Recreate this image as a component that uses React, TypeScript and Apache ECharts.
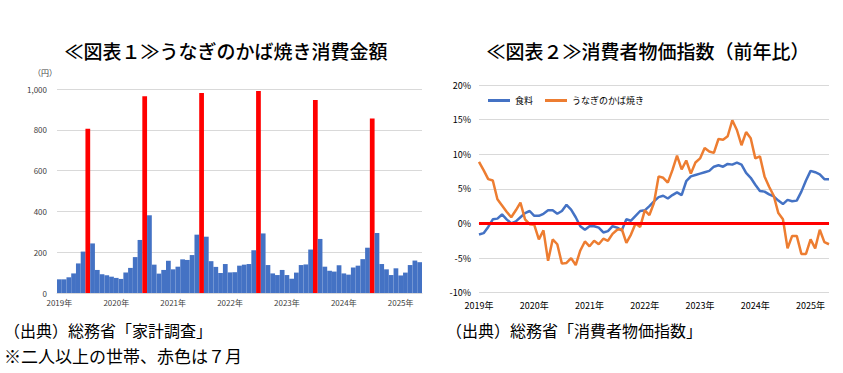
import React, { useEffect, useRef } from "react";
import * as echarts from "echarts";

const startYear = 2019;
const monthCount = 77; // Jan 2019 - May 2025
const months: string[] = [];
for (let i = 0; i < monthCount; i++) {
  const y = startYear + Math.floor(i / 12);
  const m = (i % 12) + 1;
  months.push(`${y}-${m < 10 ? "0" + m : m}`);
}

// うなぎのかば焼き 消費金額（円）
const eelSpending = [
  67, 67, 77, 96, 145, 203, 805, 243, 113, 92, 87, 80,
  74, 69, 100, 123, 176, 260, 965, 381, 139, 95, 113, 158,
  116, 129, 165, 162, 186, 286, 980, 276, 156, 128, 98, 142,
  101, 102, 134, 139, 142, 210, 990, 292, 137, 96, 88, 113,
  88, 70, 100, 137, 140, 213, 946, 265, 129, 109, 105, 136,
  96, 90, 125, 134, 166, 222, 856, 294, 142, 116, 88, 121,
  86, 100, 137, 159, 151,
];

// 消費者物価指数 前年比（%）
const foodCpi = [
  -1.6, -1.4, -0.5, 0.6, 0.7, 1.3, 0.6, 0.0, 0.3, 0.9, 1.5, 1.8,
  1.1, 1.1, 1.4, 1.9, 1.9, 1.4, 1.8, 2.7, 2.0, 0.9, -0.4, -0.9,
  -0.4, -0.4, -0.6, -1.3, -1.1, -0.4, -0.6, -1.0, 0.6, 0.4, 1.1, 1.8,
  1.9, 2.5, 3.2, 3.8, 4.0, 3.6, 4.1, 4.5, 4.1, 6.1, 6.8, 7.0,
  7.2, 7.4, 7.6, 8.2, 8.4, 8.2, 8.6, 8.5, 8.8, 8.5, 7.3, 6.6,
  5.6, 4.7, 4.6, 4.2, 3.9, 3.3, 2.8, 3.4, 3.2, 3.3, 4.6, 6.2,
  7.6, 7.4, 7.1, 6.4, 6.4,
];
const eelCpi = [
  8.9, 7.7, 6.4, 6.2, 3.5, 2.6, 1.7, 0.9, 1.9, 3.0, 0.6, -0.1,
  -0.2, -2.3, -1.0, -5.4, -2.3, -3.0, -5.8, -5.7, -5.0, -6.0, -3.9, -2.6,
  -3.3, -2.5, -3.0, -2.2, -2.5, -1.5, -0.9, -0.8, -2.8, -1.6, 0.0, -0.5,
  1.9, 1.2, 3.0, 6.8, 6.6, 5.9, 7.7, 9.8, 7.8, 9.1, 7.2, 8.8,
  9.4, 10.9, 10.4, 10.2, 12.2, 12.1, 12.6, 14.9, 13.5, 11.3, 13.2, 12.3,
  9.4, 9.7, 6.8, 5.3, 4.0, 1.5, 0.6, -3.6, -1.8, -1.8, -4.4, -4.4,
  -2.3, -3.6, -0.9, -2.7, -3.0,
];

const seriesNames = ["食料", "うなぎのかば焼き"];
const highlightMonth = 7;

const JP = '"Noto Sans CJK JP", "Noto Sans", sans-serif';
const BLUE = "#4472C4";
const ORANGE = "#ED7D31";
const RED = "#FF0000";
const GRID = "#d9d9d9";
const LABEL = "#404040";

export default function App() {
  const ref = useRef<HTMLDivElement>(null);
  useEffect(() => {
    if (!ref.current) return;
    const chart = echarts.init(ref.current, undefined, { renderer: "svg" });
    const yearLabel = (v: string) => v.slice(0, 4) + "年";
    const janOnly = (idx: number) => idx % 12 === 0;
    chart.setOption({
      animation: false,
      backgroundColor: "#ffffff",
      textStyle: { fontFamily: JP },
      grid: [
        { left: 57, top: 89, width: 365, height: 204 },
        { left: 479, top: 85, width: 350, height: 207.7 },
      ],
      xAxis: [
        {
          type: "category",
          gridIndex: 0,
          data: months,
          boundaryGap: true,
          axisTick: { show: false },
          axisLine: { show: true, lineStyle: { color: GRID } },
          axisLabel: {
            interval: janOnly,
            formatter: yearLabel,
            fontSize: 8,
            color: LABEL,
            margin: 5,
            fontFamily: JP,
          },
        },
        {
          type: "category",
          gridIndex: 1,
          data: months,
          boundaryGap: false,
          axisTick: { show: false },
          axisLine: { show: true, lineStyle: { color: GRID } },
          axisLabel: {
            interval: janOnly,
            formatter: yearLabel,
            fontSize: 9,
            color: "#000",
            margin: 8,
            fontFamily: JP,
          },
        },
      ],
      yAxis: [
        {
          type: "value",
          gridIndex: 0,
          min: 0,
          max: 1000,
          interval: 200,
          axisLine: { show: false },
          axisTick: { show: false },
          splitLine: { lineStyle: { color: GRID } },
          axisLabel: {
            fontSize: 8,
            color: LABEL,
            margin: 10,
            formatter: (v: number) => v.toLocaleString("en-US"),
          },
        },
        {
          type: "value",
          gridIndex: 1,
          min: -10,
          max: 20,
          interval: 5,
          axisLine: { show: false },
          axisTick: { show: false },
          splitLine: { lineStyle: { color: GRID } },
          axisLabel: {
            fontSize: 9,
            color: "#000",
            margin: 8,
            formatter: (v: number) => v + "%",
          },
        },
      ],
      legend: {
        data: seriesNames,
        left: 483,
        top: 91,
        itemWidth: 22,
        itemHeight: 3,
        itemGap: 12,
        icon: "rect",
        textStyle: { fontSize: 9, color: "#000", fontFamily: JP },
      },
      series: [
        {
          type: "bar",
          xAxisIndex: 0,
          yAxisIndex: 0,
          barCategoryGap: "0%",
          data: eelSpending.map((v, i) => ({
            value: v,
            itemStyle: { color: (i % 12) + 1 === highlightMonth ? RED : BLUE },
          })),
        },
        {
          name: seriesNames[0],
          type: "line",
          xAxisIndex: 1,
          yAxisIndex: 1,
          data: foodCpi,
          showSymbol: false,
          symbol: "none",
          lineStyle: { color: BLUE, width: 2.5 },
          itemStyle: { color: BLUE },
          z: 3,
        },
        {
          name: seriesNames[1],
          type: "line",
          xAxisIndex: 1,
          yAxisIndex: 1,
          data: eelCpi,
          showSymbol: false,
          symbol: "none",
          lineStyle: { color: ORANGE, width: 2.5 },
          itemStyle: { color: ORANGE },
          z: 3,
          markLine: {
            silent: true,
            symbol: "none",
            label: { show: false },
            lineStyle: { color: RED, width: 3, type: "solid" },
            data: [{ yAxis: 0 }],
            z: 4,
          },
        },
      ],
      graphic: [
        {
          type: "text",
          x: 226,
          y: 50,
          style: {
            text: "≪図表１≫うなぎのかば焼き消費金額",
            fontSize: 19,
            fontWeight: 500,
            fontFamily: JP,
            fill: "#000",
            align: "center",
            verticalAlign: "middle",
          },
        },
        {
          type: "text",
          x: 648,
          y: 50,
          style: {
            text: "≪図表２≫消費者物価指数（前年比）",
            fontSize: 19,
            fontWeight: 500,
            fontFamily: JP,
            fill: "#000",
            align: "center",
            verticalAlign: "middle",
          },
        },
        {
          type: "text",
          x: 33,
          y: 72,
          style: {
            text: "（円）",
            fontSize: 8,
            fontFamily: JP,
            fill: LABEL,
            verticalAlign: "middle",
          },
        },
        {
          type: "text",
          x: 4,
          y: 330,
          style: {
            text: "（出典）総務省「家計調査」",
            fontSize: 16,
            fontFamily: JP,
            fill: "#000",
            verticalAlign: "middle",
          },
        },
        {
          type: "text",
          x: 4,
          y: 355,
          style: {
            text: "※二人以上の世帯、赤色は７月",
            fontSize: 17,
            fontFamily: JP,
            fill: "#000",
            verticalAlign: "middle",
          },
        },
        {
          type: "text",
          x: 446,
          y: 330,
          style: {
            text: "（出典）総務省「消費者物価指数」",
            fontSize: 16,
            fontFamily: JP,
            fill: "#000",
            verticalAlign: "middle",
          },
        },
      ],
    });
    return () => chart.dispose();
  }, []);
  return (
    <div
      ref={ref}
      style={{ position: "fixed", left: 0, top: 0, width: 843, height: 373 }}
    />
  );
}
